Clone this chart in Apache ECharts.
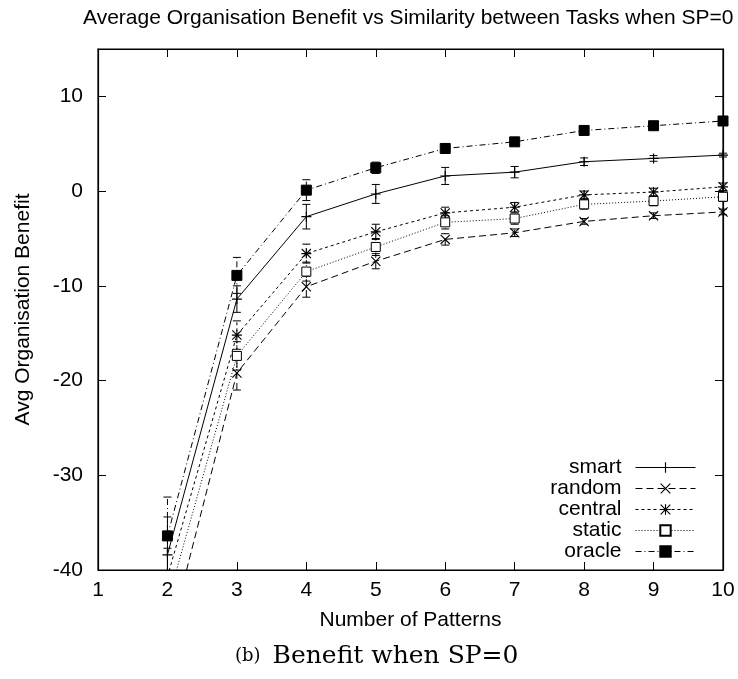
<!DOCTYPE html>
<html><head><meta charset="utf-8">
<script src="https://cdn.jsdelivr.net/npm/echarts@6/dist/echarts.min.js"></script>
<style>html,body{margin:0;padding:0;background:#fff}#c{width:738px;height:679px}</style>
</head><body><div id="c"></div>
<script>
const xs = [2, 3, 4, 5, 6, 7, 8, 9, 10];
const names = ['smart', 'random', 'central', 'static', 'oracle'];
const smart   = [-38.4, -11.4, -2.7, -0.3, 1.6, 2.0, 3.1, 3.45, 3.8];
const random  = [-47.9, -19.2, -10.1, -7.4, -5.1, -4.4, -3.2, -2.6, -2.2];
const central = [-40.7, -15.2, -6.6, -4.3, -2.3, -1.7, -0.4, -0.1, 0.45];
const stat    = [-43.4, -17.4, -8.5, -5.9, -3.3, -2.9, -1.4, -1.05, -0.6];
const oracle  = [-36.4, -8.9, 0.1, 2.46, 4.5, 5.2, 6.4, 6.9, 7.4];
const smartErr   = [4.0, 1.4, 1.3, 1.0, 0.9, 0.6, 0.4, 0.3, 0.2];
const randomErr  = [3.0, 1.8, 1.1, 0.8, 0.6, 0.4, 0.3, 0.3, 0.3];
const centralErr = [3.0, 1.5, 1.0, 0.8, 0.6, 0.5, 0.4, 0.4, 0.4];
const staticErr  = [3.0, 1.5, 1.0, 0.9, 0.7, 0.6, 0.5, 0.5, 0.5];
const oracleErr  = [4.1, 1.9, 1.1, 0.6, 0.5, 0.3, 0.2, 0.2, 0.2];
const xTicks = [1, 2, 3, 4, 5, 6, 7, 8, 9, 10];
const yTicks = [-40, -30, -20, -10, 0, 10];

const values = [smart, random, central, stat, oracle];
const errs = [smartErr, randomErr, centralErr, staticErr, oracleErr];

const PLUS = 'path://M4,0h1v9h-1z M0,4h9v1h-9z';
const CROSS = 'path://M0,0.7L0.7,0L9,8.3L8.3,9Z M8.3,0L9,0.7L0.7,9L0,8.3Z';
const STAR = 'path://M4,0h1v9h-1z M0,4h9v1h-9z M0,0.7L0.7,0L9,8.3L8.3,9Z M8.3,0L9,0.7L0.7,9L0,8.3Z';
const styles = [
  {symbol: PLUS, size: 10, fill: '#000', dash: 'solid'},
  {symbol: CROSS, size: 10, fill: '#000', dash: [7, 4]},
  {symbol: STAR, size: 10, fill: '#000', dash: [3, 3]},
  {symbol: 'rect', size: 9, fill: '#fff', dash: [1, 2]},
  {symbol: 'rect', size: 10, fill: '#000', dash: [6, 3, 1, 3]}
];

const YMIN = -40, YMAX = 15;
const series = [];
names.forEach((n, i) => {
  const st = styles[i];
  series.push({
    name: n, type: 'line',
    data: xs.map((x, k) => [x, values[i][k]]),
    symbol: st.symbol, symbolSize: st.size, showAllSymbol: true,
    clip: true, z: 3,
    lineStyle: {color: '#000', width: 1, type: st.dash},
    itemStyle: {color: st.fill, borderColor: '#000', borderWidth: st.symbol === 'rect' ? 1 : 0},
    emphasis: {disabled: true}, animation: false
  });
  series.push({
    name: n + '-err', type: 'custom', z: 2, animation: false,
    data: xs.map((x, k) => [x, values[i][k], errs[i][k]]),
    renderItem: function (params, api) {
      const x = api.value(0), v = api.value(1), e = api.value(2);
      let lo = Math.max(v - e, YMIN), hi = Math.min(v + e, YMAX);
      if (hi <= YMIN) return null;
      const p1 = api.coord([x, lo]), p2 = api.coord([x, hi]);
      const cap = 4;
      const style = {stroke: '#000', lineWidth: 1, lineDash: st.dash === 'solid' ? null : st.dash};
      const children = [
        {type: 'line', shape: {x1: p1[0], y1: p1[1], x2: p2[0], y2: p2[1]}, style: style}
      ];
      if (v + e <= YMAX) children.push({type: 'line', shape: {x1: p2[0] - cap, y1: p2[1], x2: p2[0] + cap, y2: p2[1]}, style: {stroke: '#000', lineWidth: 1}});
      if (v - e >= YMIN) children.push({type: 'line', shape: {x1: p1[0] - cap, y1: p1[1], x2: p1[0] + cap, y2: p1[1]}, style: {stroke: '#000', lineWidth: 1}});
      return {type: 'group', children: children};
    }
  });
});

const chart = echarts.init(document.getElementById('c'), null, {renderer: 'canvas'});
const FONT = 'Liberation Sans';
const FS = 21;
chart.setOption({
  animation: false,
  backgroundColor: '#fff',
  title: {
    text: 'Average Organisation Benefit vs Similarity between Tasks when SP=0',
    left: 83, top: 8, padding: 0,
    textStyle: {fontFamily: FONT, fontSize: FS, fontWeight: 'normal', color: '#000'}
  },
  grid: {left: 98, right: 15, top: 49, bottom: 109, show: true, borderColor: '#000', borderWidth: 1.2, containLabel: false},
  legend: {
    data: names, orient: 'vertical', align: 'right', right: 42, top: 457,
    padding: 0, itemWidth: 60, itemHeight: 13, itemGap: 0,
    lineStyle: {width: 1},
    textStyle: {fontFamily: FONT, fontSize: FS, color: '#000', lineHeight: 21, padding: [0, 9, 0, 0]},
    selectedMode: false
  },
  xAxis: [{
    type: 'value', min: 1, max: 10, interval: 1,
    name: 'Number of Patterns', nameLocation: 'middle', nameGap: 40,
    nameTextStyle: {fontFamily: FONT, fontSize: FS, color: '#000'},
    axisLine: {show: true, onZero: false, lineStyle: {color: '#000', width: 1.2}},
    axisTick: {show: true, inside: true, length: 8, lineStyle: {color: '#000'}},
    axisLabel: {fontFamily: FONT, fontSize: FS, color: '#000', margin: 10,
      formatter: v => xTicks.indexOf(v) >= 0 ? String(v) : ''},
    splitLine: {show: false}
  }, {
    type: 'value', min: 1, max: 10, interval: 1, position: 'top',
    axisLine: {show: true, onZero: false, lineStyle: {color: '#000', width: 1.2}},
    axisTick: {show: true, inside: true, length: 8, lineStyle: {color: '#000'}},
    axisLabel: {show: false}, splitLine: {show: false}
  }],
  yAxis: [{
    type: 'value', min: YMIN, max: YMAX, interval: 10,
    name: 'Avg Organisation Benefit', nameLocation: 'middle', nameGap: 64,
    nameTextStyle: {fontFamily: FONT, fontSize: FS, color: '#000'},
    axisLine: {show: true, onZero: false, lineStyle: {color: '#000', width: 1.2}},
    axisTick: {show: true, inside: true, length: 8, lineStyle: {color: '#000'}},
    axisLabel: {fontFamily: FONT, fontSize: FS, color: '#000', margin: 15, showMaxLabel: false,
      formatter: v => yTicks.indexOf(v) >= 0 ? String(v) : ''},
    splitLine: {show: false}
  }, {
    type: 'value', min: YMIN, max: YMAX, interval: 10, position: 'right',
    axisLine: {show: true, onZero: false, lineStyle: {color: '#000', width: 1.2}},
    axisTick: {show: true, inside: true, length: 8, lineStyle: {color: '#000'}},
    axisLabel: {show: false}, splitLine: {show: false}
  }],
  graphic: [{
    type: 'text', left: 235, top: 644,
    style: {
      text: '{a|(b)}{s| }{b|Benefit when SP=0}',
      rich: {
        a: {fontFamily: 'DejaVu Serif', fontSize: 18, fill: '#000'},
        s: {fontFamily: 'DejaVu Serif', fontSize: 18, width: 12, fill: '#000'},
        b: {fontFamily: 'DejaVu Serif', fontSize: 25, fill: '#000'}
      }
    }
  }],
  series: series
});
</script>
</body></html>
